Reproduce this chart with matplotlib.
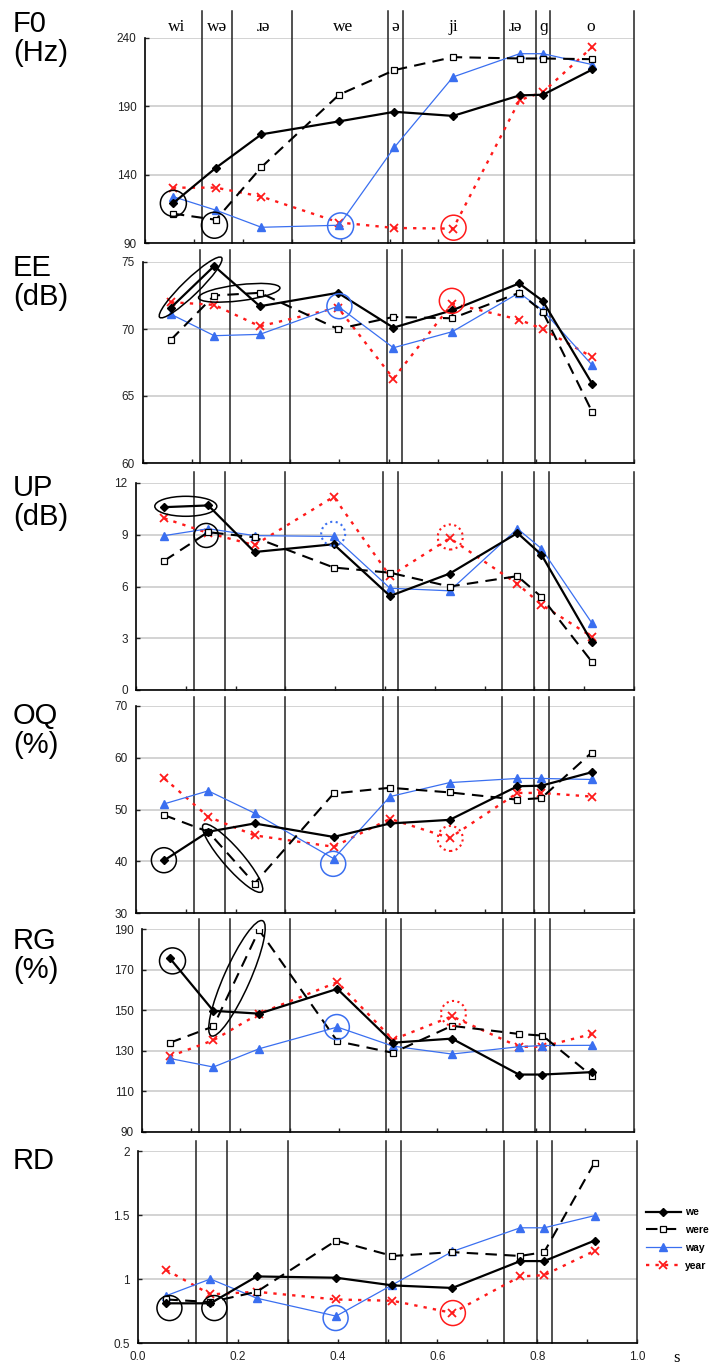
import matplotlib
matplotlib.use("Agg")
import matplotlib.pyplot as plt
from matplotlib.patches import Ellipse
from matplotlib.transforms import ScaledTranslation

plt.rcParams['font.family'] = ['Liberation Sans', 'DejaVu Sans']

# x position (s) of each segment sample
x_pos = [0.057, 0.145, 0.238, 0.397, 0.51, 0.63, 0.766, 0.814, 0.915]

# segment boundaries and labels
bounds = [0.116, 0.178, 0.300, 0.496, 0.527, 0.734, 0.799, 0.829, 1.0]
seg_labels = ['wi', 'wə', 'ɹə', 'we', 'ə', 'ji', 'ɹə', 'ɡ', 'o']
seg_label_x = [0.065, 0.148, 0.243, 0.405, 0.512, 0.63, 0.757, 0.816, 0.912]

f0_we = [119, 145, 169.5, 179, 186, 183, 198, 198.5, 217]
f0_were = [111.5, 107, 145.5, 198.5, 216.5, 226, 225, 225, 224.5]
f0_way = [124, 114, 101.5, 103, 160, 211.5, 228.5, 228.5, 220.5]
f0_year = [130.5, 130.5, 124, 105, 101, 100.5, 194.5, 200.5, 233.5]

ee_we = [71.6, 74.7, 71.7, 72.7, 70.1, 71.4, 73.4, 72.1, 65.9]
ee_were = [69.2, 72.5, 72.7, 70.0, 70.9, 70.8, 72.7, 71.3, 63.8]
ee_way = [71.1, 69.5, 69.6, 71.7, 68.6, 69.8, 72.7, 71.4, 67.3]
ee_year = [72.0, 71.8, 70.2, 71.6, 66.3, 71.9, 70.7, 70.0, 67.9]

up_we = [10.6, 10.7, 8.0, 8.45, 5.45, 6.75, 9.1, 7.85, 2.8]
up_were = [7.5, 9.15, 8.85, 7.1, 6.8, 6.0, 6.6, 5.4, 1.65]
up_way = [8.95, 9.35, 8.95, 8.9, 5.9, 5.75, 9.35, 8.2, 3.9]
up_year = [9.95, 9.1, 8.4, 11.2, 6.6, 8.8, 6.15, 4.95, 3.1]

oq_we = [40.2, 45.7, 47.3, 44.7, 47.3, 48.0, 54.5, 54.6, 57.2]
oq_were = [48.9, 45.7, 35.7, 53.1, 54.2, 53.3, 51.9, 52.2, 61.0]
oq_way = [51.1, 53.6, 49.3, 40.5, 52.5, 55.2, 56.0, 56.0, 55.8]
oq_year = [56.0, 48.6, 45.0, 42.8, 48.2, 44.5, 53.2, 53.2, 52.5]

rg_we = [175.5, 149.7, 148.3, 160.5, 134, 136, 118.3, 118.3, 119.5]
rg_were = [134, 142, 189.5, 134.7, 129, 142.3, 138.3, 137.5, 117.5]
rg_way = [126.2, 122, 131, 141.7, 132.3, 128.4, 132, 132.6, 132.7]
rg_year = [127.3, 135.2, 148.3, 163.8, 135.5, 147, 132, 132, 138.3]

rd_we = [0.81, 0.81, 1.02, 1.01, 0.95, 0.93, 1.14, 1.14, 1.30]
rd_were = [0.84, 0.82, 0.90, 1.30, 1.18, 1.21, 1.18, 1.21, 1.91]
rd_way = [0.87, 1.0, 0.85, 0.71, 0.955, 1.215, 1.40, 1.40, 1.495]
rd_year = [1.07, 0.88, 0.90, 0.84, 0.83, 0.735, 1.02, 1.03, 1.22]

BLUE = '#3a6ff0'
RED = '#ff1a1a'

W, H = 718, 1367
fig = plt.figure(figsize=(W / 100, H / 100), dpi=100)

# panel: name, unit, data, yticks, ticklabels, box in pixels (left, top, right, bottom),
# extension of boundary lines, top of the panel name
panels = [
    ('F0', '(Hz)', (f0_we, f0_were, f0_way, f0_year), [90, 140, 190, 240], None, (145, 38, 634, 243), 27, 10),
    ('EE', '(dB)', (ee_we, ee_were, ee_way, ee_year), [60, 65, 70, 75], None, (143, 262, 634, 463), 12, 254),
    ('UP', '(dB)', (up_we, up_were, up_way, up_year), [0, 3, 6, 9, 12], None, (136, 483, 634, 690), 11, 474),
    ('OQ', '(%)', (oq_we, oq_were, oq_way, oq_year), [30, 40, 50, 60, 70], None, (136, 706, 634, 913), 9, 702),
    ('RG', '(%)', (rg_we, rg_were, rg_way, rg_year), [90, 110, 130, 150, 170, 190], None, (142, 929, 634, 1132), 10, 927),
    ('RD', '', (rd_we, rd_were, rd_way, rd_year), [0.5, 1, 1.5, 2], ['0.5', '1', '1.5', '2'], (138, 1151, 637, 1343), 10, 1147),
]

# marks: panel index, x, y, width px, height px, angle, colour, linestyle
marks = [
    (0, 0.058, 119, 26, 26, 0, 'k', '-'),
    (0, 0.142, 103, 26, 26, 0, 'k', '-'),
    (0, 0.400, 102.5, 26, 26, 0, BLUE, '-'),
    (0, 0.631, 101.2, 25, 25, 0, RED, '-'),
    (1, 0.097, 73.1, 86, 16, 44, 'k', '-'),
    (1, 0.196, 72.7, 82, 16, 7, 'k', '-'),
    (1, 0.400, 71.7, 25, 25, 0, BLUE, '-'),
    (1, 0.629, 72.1, 25, 25, 0, RED, '-'),
    (2, 0.100, 10.65, 62, 20, 0, 'k', '-'),
    (2, 0.141, 8.96, 24, 24, 0, 'k', '-'),
    (2, 0.396, 9.06, 24, 24, 0, BLUE, ':'),
    (2, 0.631, 8.87, 25, 25, 0, RED, ':'),
    (3, 0.056, 40.2, 25, 25, 0, 'k', '-'),
    (3, 0.194, 40.6, 89, 20, -49, 'k', '-'),
    (3, 0.396, 39.5, 25, 25, 0, BLUE, '-'),
    (3, 0.631, 44.4, 25, 25, 0, RED, ':'),
    (4, 0.062, 174.3, 26, 26, 0, 'k', '-'),
    (4, 0.193, 165.7, 126, 26, 66, 'k', '-'),
    (4, 0.396, 141.7, 25, 25, 0, BLUE, '-'),
    (4, 0.633, 148.4, 25, 25, 0, RED, ':'),
    (5, 0.063, 0.773, 25, 25, 0, 'k', '-'),
    (5, 0.153, 0.773, 25, 25, 0, 'k', '-'),
    (5, 0.396, 0.695, 25, 25, 0, BLUE, '-'),
    (5, 0.631, 0.734, 25, 25, 0, RED, '-'),
]

axes = []
for name, unit, data, yt, ytl, box, ext, name_top in panels:
    l, t, r, b = box
    ax = fig.add_axes([l / W, 1 - b / H, (r - l) / W, (b - t) / H])
    axes.append(ax)
    ax.set_xlim(0, 1)
    ax.set_ylim(yt[0], yt[-1])
    ax.set_yticks(yt)
    if ytl:
        ax.set_yticklabels(ytl)
    ax.set_xticks([i / 10 for i in range(11)])
    ax.grid(axis='y', color='#c8c8c8', lw=1.1)
    ax.set_axisbelow(True)
    for s in ['top', 'right']:
        ax.spines[s].set_visible(False)
    for s in ['left', 'bottom']:
        ax.spines[s].set_linewidth(1.2)
    ax.tick_params(direction='in', length=3, width=1, labelsize=8.5, pad=6, colors='#222')
    ax.tick_params(axis='x', labelbottom=False)

    frac = 1 + ext / (b - t)
    for bx in bounds:
        ax.axvline(bx, 0, frac, color='#222', lw=1.1, clip_on=False, zorder=1)

    we, were, way, year = data
    ax.plot(x_pos, year, color=RED, lw=1.7, ls=(0, (1.4, 2.6)), marker='x', ms=5.5, mew=1.3,
            label='year', zorder=3)
    ax.plot(x_pos, way, color=BLUE, lw=0.9, marker='^', ms=5.5, label='way', zorder=4)
    ax.plot(x_pos, were, color='k', lw=1.5, ls=(0, (5.5, 3.5)), marker='s', ms=5, mfc='white',
            mec='k', mew=0.9, label='were', zorder=5)
    ax.plot(x_pos, we, color='k', lw=1.6, marker='D', ms=3.8, label='we', zorder=6)

    fig.text(13 / W, 1 - name_top / H, name + ('\n' + unit if unit else ''),
             fontsize=21, va='top', ha='left', linespacing=1.05)

for i, x, y, w, h, ang, col, ls in marks:
    ax = axes[i]
    tr = fig.dpi_scale_trans + ScaledTranslation(x, y, ax.transData)
    e = Ellipse((0, 0), w / 100, h / 100, angle=ang, transform=tr, fill=False,
                edgecolor=col, lw=1.5 if ls == ':' else 1.1, ls=ls, clip_on=False, zorder=7)
    ax.add_artist(e)

# segment labels above the first panel
for lx, lab in zip(seg_label_x, seg_labels):
    axes[0].text(lx, 1.055, lab, transform=axes[0].transAxes, ha='center', va='center',
                 fontsize=12.5, family=['Liberation Serif', 'DejaVu Serif'])

# bottom axis labels
rd = axes[-1]
rd.tick_params(axis='x', labelbottom=True)
rd.set_xticklabels(['%.1f' % (i / 10) if i % 2 == 0 else '' for i in range(11)])
rd.text(1.08, -0.08, 's', transform=rd.transAxes, ha='center', va='center', fontsize=12,
        family=['Liberation Serif', 'DejaVu Serif'])

handles, labels = axes[0].get_legend_handles_labels()
order = [3, 2, 1, 0]
fig.legend([handles[k] for k in order], [labels[k] for k in order], loc='center left',
           bbox_to_anchor=(641 / W, 1 - 1239 / H), frameon=False, handlelength=3.3,
           handletextpad=0.4, labelspacing=0.75, borderpad=0,
           prop={'weight': 'bold', 'size': 7.5})

fig.savefig('out.png', dpi=100)
